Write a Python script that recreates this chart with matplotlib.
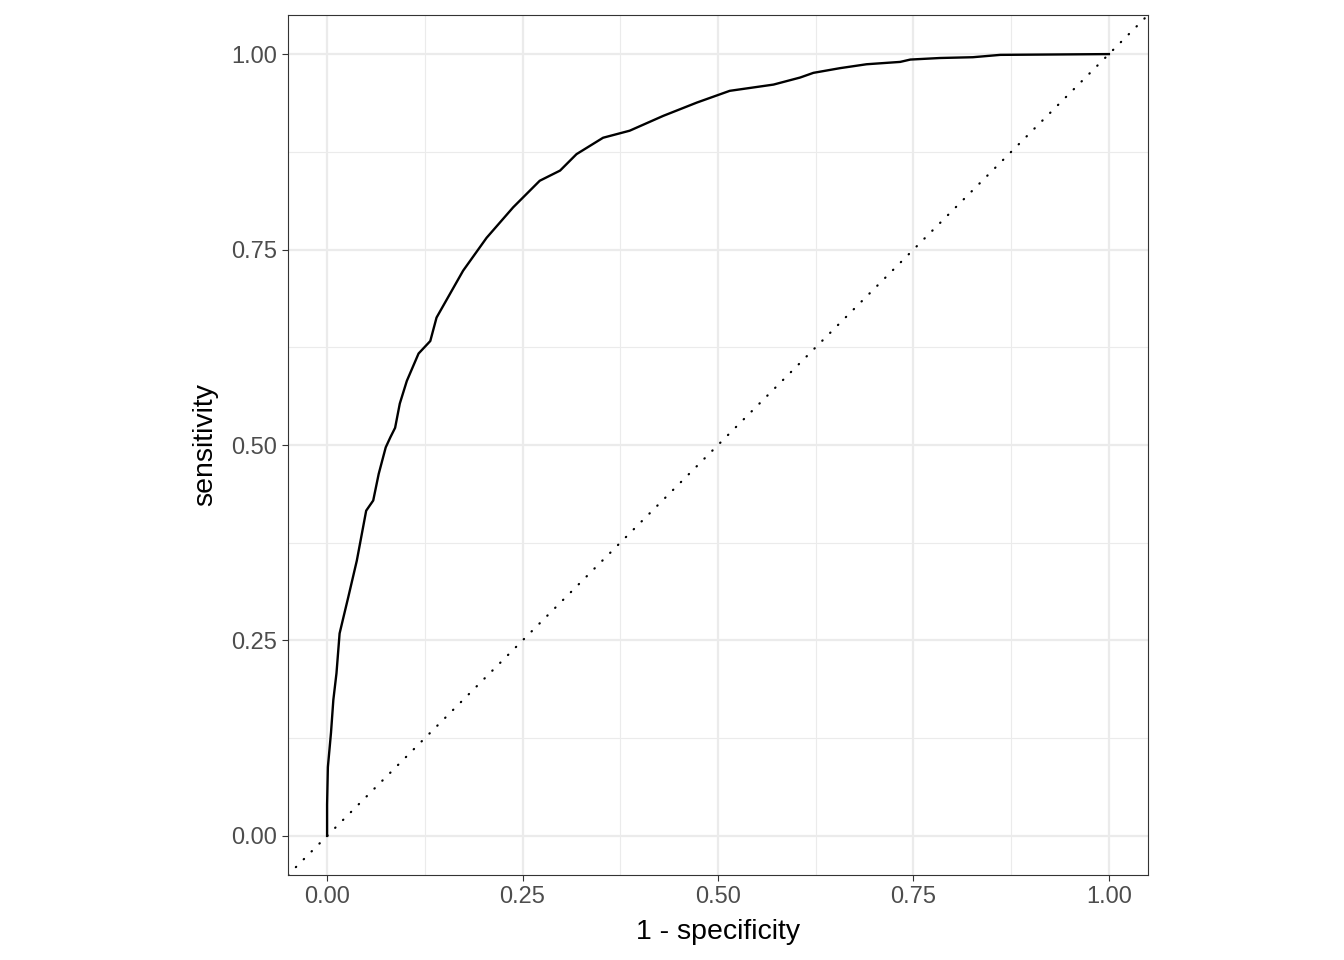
import matplotlib.pyplot as plt
import numpy as np

plt.rcParams['font.family'] = ['Liberation Sans', 'DejaVu Sans']

# ROC curve points
fpr = [0.000, 0.000, 0.001, 0.005, 0.008, 0.012, 0.016, 0.021, 0.027, 0.038,
       0.050, 0.059, 0.066, 0.075, 0.081, 0.087, 0.093, 0.102, 0.117, 0.132,
       0.140, 0.157, 0.174, 0.204, 0.238, 0.272, 0.298, 0.319, 0.353, 0.387,
       0.430, 0.473, 0.515, 0.571, 0.605, 0.622, 0.656, 0.690, 0.733, 0.746,
       0.784, 0.826, 0.861, 1.000]
tpr = [0.000, 0.040, 0.088, 0.132, 0.174, 0.208, 0.259, 0.280, 0.305, 0.352,
       0.416, 0.429, 0.463, 0.497, 0.510, 0.522, 0.553, 0.582, 0.617, 0.633,
       0.663, 0.693, 0.723, 0.765, 0.804, 0.838, 0.851, 0.872, 0.893, 0.902,
       0.921, 0.938, 0.953, 0.961, 0.970, 0.976, 0.982, 0.987, 0.990, 0.993,
       0.995, 0.996, 0.999, 1.000]
ticks = [0.0, 0.25, 0.5, 0.75, 1.0]
tick_labels = ['0.00', '0.25', '0.50', '0.75', '1.00']

fig = plt.figure(figsize=(13.44, 9.6), dpi=100)
ax = fig.add_axes([288 / 1344, 85 / 960, 860 / 1344, 860 / 960])

# grid like theme_bw
for v in [0.125, 0.375, 0.625, 0.875]:
    ax.axvline(v, color='#EBEBEB', lw=0.8, zorder=0)
    ax.axhline(v, color='#EBEBEB', lw=0.8, zorder=0)
for v in ticks:
    ax.axvline(v, color='#EBEBEB', lw=1.6, zorder=0)
    ax.axhline(v, color='#EBEBEB', lw=1.6, zorder=0)

# diagonal reference
diag = np.array([-0.05, 1.05])
ax.plot(diag, diag, color='black', lw=1.6, dashes=(0.2, 4.8),
        dash_capstyle='round', zorder=2)

ax.plot(fpr, tpr, color='black', lw=1.7, zorder=3,
        solid_joinstyle='round')

ax.set_xlim(-0.05, 1.05)
ax.set_ylim(-0.05, 1.05)
ax.set_aspect('equal')
ax.set_xticks(ticks)
ax.set_yticks(ticks)
ax.set_xticklabels(tick_labels)
ax.set_yticklabels(tick_labels)
ax.tick_params(colors='#333333', labelcolor='#4D4D4D', labelsize=17,
               length=4.5, width=0.8, pad=3.5)
for s in ax.spines.values():
    s.set_color('#333333')
    s.set_linewidth(0.8)

ax.set_xlabel('1 - specificity', fontsize=20.5, labelpad=8)
ax.set_ylabel('sensitivity', fontsize=20.5, labelpad=9)

fig.savefig('out.png', dpi=100)
